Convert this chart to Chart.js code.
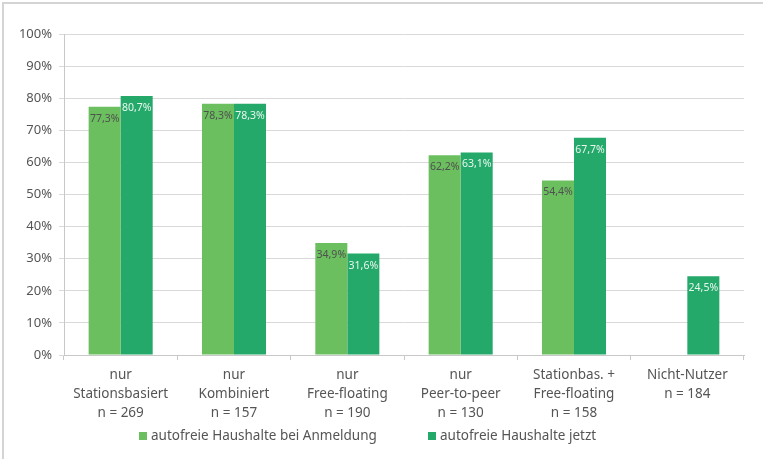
<!DOCTYPE html>
<html>
<head>
<meta charset="utf-8">
<script src="https://cdn.jsdelivr.net/npm/chart.js@4"></script>
<style>
    body { margin: 0; background: #fff; }
    #wrap { position: relative; width: 763px; height: 459px; overflow: hidden; }
    #frame { position: absolute; left: 2px; top: 2px; width: 800px; height: 500px; border-left: 2px solid #d4d4d4; border-top: 2px solid #d4d4d4; }
    #chart { position: absolute; left: 0; top: 0; }
</style>
</head>
<body>
<div id="wrap">
    <div id="frame"></div>
    <canvas id="chart" width="763" height="459"></canvas>
</div>
<script>
// Nutzergruppen (Kategorien) mit Stichprobengröße
const categories = [
    ['nur', 'Stationsbasiert', 'n = 269'],
    ['nur', 'Kombiniert', 'n = 157'],
    ['nur', 'Free-floating', 'n = 190'],
    ['nur', 'Peer-to-peer', 'n = 130'],
    ['Stationbas. +', 'Free-floating', 'n = 158'],
    ['Nicht-Nutzer', 'n = 184']
];
const seriesNames = ['autofreie Haushalte bei Anmeldung', 'autofreie Haushalte jetzt'];
const beiAnmeldung = [77.3, 78.3, 34.9, 62.2, 54.4, null];
const jetzt = [80.7, 78.3, 31.6, 63.1, 67.7, 24.5];
const yTicks = [0, 10, 20, 30, 40, 50, 60, 70, 80, 90, 100];

const colors = ['#6bbf5f', '#24a96b'];
const labelColors = ['#505050', '#e9f6ee'];
const fontFamily = '"Noto Sans", sans-serif';

function fmt(v) {
    return v.toFixed(1).replace('.', ',') + '%';
}

// value labels inside the bars, near the top
const barLabels = {
    id: 'barLabels',
    afterDatasetsDraw(chart) {
        const ctx = chart.ctx;
        ctx.save();
        ctx.font = '10.5px ' + fontFamily;
        ctx.textAlign = 'center';
        ctx.textBaseline = 'middle';
        chart.data.datasets.forEach((ds, i) => {
            chart.getDatasetMeta(i).data.forEach((bar, j) => {
                const v = ds.data[j];
                if (v === null) return;
                ctx.fillStyle = labelColors[i];
                ctx.fillText(fmt(v), bar.x, bar.y + 12);
            });
        });
        ctx.restore();
    }
};

// legend drawn below the axis labels
const bottomLegend = {
    id: 'bottomLegend',
    afterDraw(chart) {
        const ctx = chart.ctx;
        const xs = [139, 428];
        const y = 436;
        ctx.save();
        ctx.font = '13.5px ' + fontFamily;
        ctx.textBaseline = 'middle';
        ctx.textAlign = 'left';
        seriesNames.forEach((name, i) => {
            ctx.fillStyle = colors[i];
            ctx.fillRect(xs[i], y - 4, 8, 8);
            ctx.fillStyle = '#555555';
            ctx.fillText(name, xs[i] + 12, y);
        });
        ctx.restore();
    }
};

const ctx = document.getElementById('chart').getContext('2d');
const chart = new Chart(ctx, {
    type: 'bar',
    data: {
        labels: categories,
        datasets: [
            { label: seriesNames[0], data: beiAnmeldung, backgroundColor: colors[0] },
            { label: seriesNames[1], data: jetzt, backgroundColor: colors[1] }
        ]
    },
    options: {
        responsive: false,
        animation: false,
        devicePixelRatio: 1,
        categoryPercentage: 0.565,
        barPercentage: 1.0,
        layout: { padding: { left: 0, top: 34, right: 19, bottom: 0 } },
        plugins: {
            legend: { display: false },
            tooltip: { enabled: false }
        },
        scales: {
            x: {
                grid: {
                    display: true,
                    drawOnChartArea: false,
                    tickLength: 5,
                    color: '#c8c8c8'
                },
                border: { color: '#c8c8c8' },
                ticks: {
                    color: '#555555',
                    font: { family: fontFamily, size: 13.5, lineHeight: 1.4 },
                    padding: 6,
                    maxRotation: 0,
                    autoSkip: false
                },
                afterFit(scale) { scale.height = 104; }
            },
            y: {
                min: 0,
                max: 100,
                afterBuildTicks(scale) { scale.ticks = yTicks.map(v => ({ value: v })); },
                grid: { color: '#d9d9d9', tickLength: 5 },
                border: { color: '#c8c8c8' },
                ticks: {
                    color: '#555555',
                    font: { family: fontFamily, size: 13 },
                    padding: 7,
                    callback: v => v + '%'
                },
                afterFit(scale) { scale.width = 64; }
            }
        }
    },
    plugins: [barLabels, bottomLegend]
});
</script>
</body>
</html>
